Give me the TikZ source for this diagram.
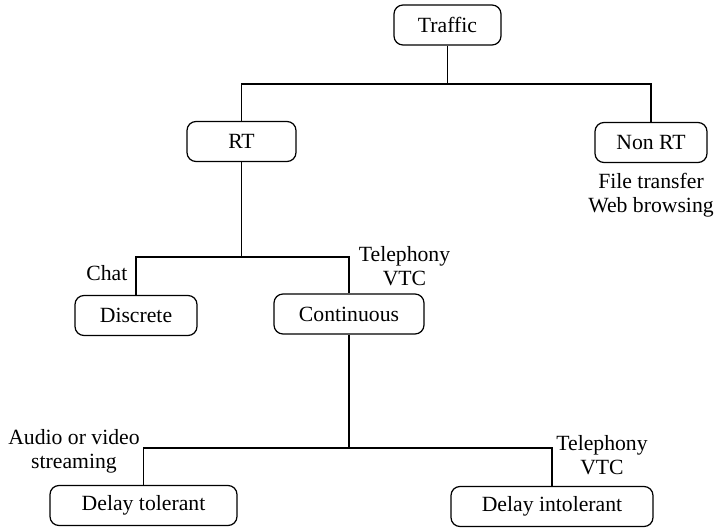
\documentclass[tikz,border=0pt]{standalone}
\usepackage{fontspec}
\setmainfont{Liberation Serif}
\begin{document}
\begin{tikzpicture}[x=1pt,y=-1pt,
  every node/.style={font=\fontsize{21.7}{24}\selectfont},
  box/.style={draw, rounded corners=9pt, line width=1.25pt, minimum height=40pt, inner sep=0pt},
  conn/.style={line width=1.25pt},
  note/.style={align=center, inner sep=0pt}]
\useasboundingbox (0,0) rectangle (714,527);

% category boxes
\node[box, minimum width=107pt] (traffic) at (447.5,25) {Traffic};
\node[box, minimum width=109pt] (rt) at (241.5,141.5) {RT};
\node[box, minimum width=112pt] (nonrt) at (651,142.5) {Non RT};
\node[box, minimum width=122pt] (discrete) at (136,315.5) {Discrete};
\node[box, minimum width=150pt] (continuous) at (349,314) {Continuous};
\node[box, minimum width=187pt] (tolerant) at (143.5,505.5) {Delay tolerant};
\node[box, minimum width=202pt] (intolerant) at (552,506.5) {Delay intolerant};

% junction points of the tree
\coordinate (j1) at (447.5,84);
\coordinate (j2) at (241.5,257);
\coordinate (j3) at (349,448);

% connectors
\draw[conn] (traffic.south) -- (j1);
\draw[conn] (rt.north) |- (j1) -| (nonrt.north);
\draw[conn] (rt.south) -- (j2);
\draw[conn] (discrete.north) |- (j2) -| (continuous.north);
\draw[conn] (continuous.south) -- (j3);
\draw[conn] (tolerant.north) |- (j3) -| (intolerant.north);

% example applications
\node[note] (ex1) at (651,195.5) {File transfer\\Web browsing};
\node[note, anchor=east] (ex2) at (127.5,273) {Chat};
\node[note] (ex3) at (404.5,266.5) {Telephony\\VTC};
\node[note] (ex4) at (74,451.5) {Audio or video\\streaming};
\node[note] (ex5) at (602,455) {Telephony\\VTC};
\end{tikzpicture}
\end{document}
